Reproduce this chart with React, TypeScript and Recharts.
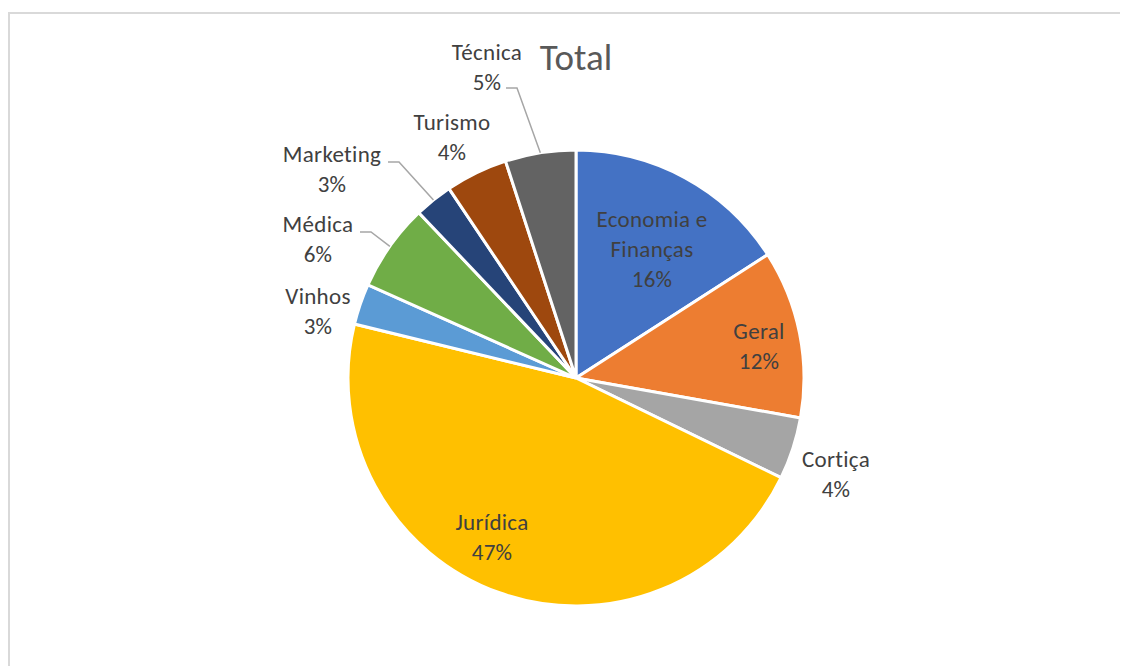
import { PieChart, Pie, Cell } from 'recharts'

const categories = [
  'Economia e Finanças',
  'Geral',
  'Cortiça',
  'Jurídica',
  'Vinhos',
  'Médica',
  'Marketing',
  'Turismo',
  'Técnica',
]
const shares = [15.9, 11.9, 4.4, 46.6, 2.9, 6.2, 2.7, 4.4, 5.0]
const colors = [
  '#4472C4',
  '#ED7D31',
  '#A5A5A5',
  '#FFC000',
  '#5B9BD5',
  '#70AD47',
  '#264478',
  '#9E480E',
  '#636363',
]

const chartData = categories.map((name, i) => ({ name, value: shares[i] }))

// label placement, pixel offsets from the pie centre (Excel best-fit layout)
const labelPos: Array<{ dx: number; dy: number; line?: [number, number] }> = [
  { dx: 76, dy: -129 },
  { dx: 183, dy: -32 },
  { dx: 260, dy: 96 },
  { dx: -84, dy: 159 },
  { dx: -258, dy: -67 },
  { dx: -258, dy: -139, line: [-216, -146] },
  { dx: -244, dy: -209, line: [-188, -216] },
  { dx: -124, dy: -241 },
  { dx: -89, dy: -311, line: [-70, -290] },
]

const FONT = 'Carlito, Calibri, Lato, sans-serif'
const RAD = Math.PI / 180

const wrap = (name: string) => (name === 'Economia e Finanças' ? ['Economia e', 'Finanças'] : [name])

const renderLabel = (props: any) => {
  const { cx, cy, midAngle, outerRadius, index, percent, name } = props
  const pos = labelPos[index]
  const x = cx + pos.dx
  const y = cy + pos.dy
  const lines = [...wrap(name), `${Math.round(percent * 100)}%`]
  const ex = cx + outerRadius * Math.cos(-midAngle * RAD)
  const ey = cy + outerRadius * Math.sin(-midAngle * RAD)
  return (
    <g key={`lbl-${index}`}>
      {pos.line && (
        <polyline
          points={`${cx + pos.line[0]},${cy + pos.line[1]} ${cx + pos.line[0] + 11},${cy + pos.line[1]} ${ex},${ey}`}
          fill="none"
          stroke="#A6A6A6"
          strokeWidth={1.5}
        />
      )}
      {lines.map((t, i) => (
        <text
          key={i}
          x={x}
          y={y + (i - (lines.length - 1) / 2) * 30}
          textAnchor="middle"
          dominantBaseline="central"
          fill="#404040"
          fontSize={23}
          letterSpacing={0.3}
          fontFamily={FONT}
        >
          {t}
        </text>
      ))}
    </g>
  )
}

export default function App() {
  return (
    <div style={{ position: 'relative', width: 1120, height: 658, overflow: 'hidden', background: '#fff' }}>
      <div
        style={{
          position: 'absolute',
          left: 0,
          top: 4,
          width: 1140,
          height: 700,
          border: '2px solid #D9D9D9',
          boxSizing: 'border-box',
        }}
      />
      <div style={{ position: 'absolute', left: 0, top: 0 }}>
        <PieChart width={1120} height={658} margin={{ top: 0, right: 0, bottom: 0, left: 0 }}>
          <text x={568} y={49} textAnchor="middle" dominantBaseline="central" fill="#595959" fontSize={37} fontFamily={FONT}>
            Total
          </text>
          <Pie
            data={chartData}
            dataKey="value"
            nameKey="name"
            cx={568}
            cy={370}
            outerRadius={228}
            startAngle={90}
            endAngle={-270}
            stroke="#FFFFFF"
            strokeWidth={3}
            label={renderLabel}
            labelLine={false}
            isAnimationActive={false}
          >
            {chartData.map((d, i) => (
              <Cell key={d.name} fill={colors[i]} />
            ))}
          </Pie>
        </PieChart>
      </div>
    </div>
  )
}
